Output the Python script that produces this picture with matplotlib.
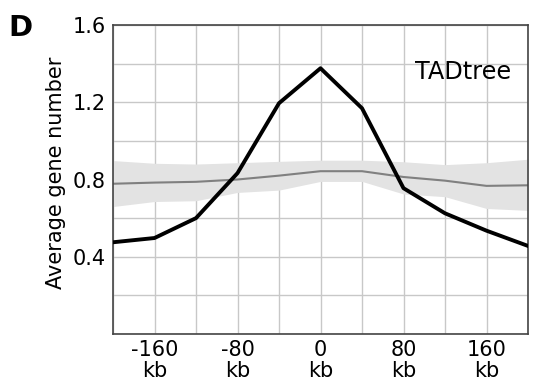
import matplotlib
matplotlib.use("Agg")
import matplotlib.pyplot as plt

positions_kb = [-200, -160, -120, -80, -40, 0, 40, 80, 120, 160, 200]
tadtree_genes = [0.475, 0.497, 0.60, 0.833, 1.195, 1.376, 1.169, 0.755, 0.625, 0.535, 0.456]
random_mean = [0.778, 0.784, 0.788, 0.800, 0.820, 0.843, 0.843, 0.813, 0.794, 0.767, 0.770]
random_upper = [0.898, 0.884, 0.880, 0.887, 0.894, 0.900, 0.900, 0.892, 0.877, 0.887, 0.905]
random_lower = [0.660, 0.686, 0.690, 0.733, 0.745, 0.790, 0.790, 0.725, 0.711, 0.650, 0.640]

xtick_values = [-200, -160, -120, -80, -40, 0, 40, 80, 120, 160, 200]
xtick_labels = ["", "-160\nkb", "", "-80\nkb", "", "0\nkb", "", "80\nkb", "", "160\nkb", ""]
ytick_values = [0.0, 0.2, 0.4, 0.6, 0.8, 1.0, 1.2, 1.4, 1.6]
ytick_labels = ["", "", "0.4", "", "0.8", "", "1.2", "", "1.6"]

fig = plt.figure(figsize=(5.34, 3.82), dpi=100)
ax = fig.add_axes([113/534, 48/382, 415/534, 309/382])

ax.fill_between(positions_kb, random_lower, random_upper, color="#e3e3e3", lw=0, zorder=1)
ax.plot(positions_kb, random_mean, color="#808080", lw=1.5, zorder=2)
ax.plot(positions_kb, tadtree_genes, color="black", lw=2.8, zorder=3)

ax.set_xlim(-200, 200)
ax.set_ylim(0, 1.6)
ax.set_xticks(xtick_values)
ax.set_xticklabels(xtick_labels, fontsize=15, linespacing=1.1)
ax.set_yticks(ytick_values)
ax.set_yticklabels(ytick_labels, fontsize=15)
ax.tick_params(axis="both", length=0, pad=5)
ax.tick_params(axis="x", pad=4)
ax.grid(True, color="#c8c8c8", lw=1.0, zorder=0)
ax.set_axisbelow(True)
for s in ax.spines.values():
    s.set_color("#444444")
    s.set_linewidth(1.2)

ax.set_ylabel("Average gene number", fontsize=15)
ax.yaxis.set_label_coords(-0.113, 0.522)

ax.text(0.843, 0.848, "TADtree", transform=ax.transAxes, fontsize=17.3,
        ha="center", va="center")
fig.text(8/534, 1 - 28.5/382, "D", fontsize=21, fontweight="bold", ha="left", va="center")

fig.savefig("out.png", dpi=100)
